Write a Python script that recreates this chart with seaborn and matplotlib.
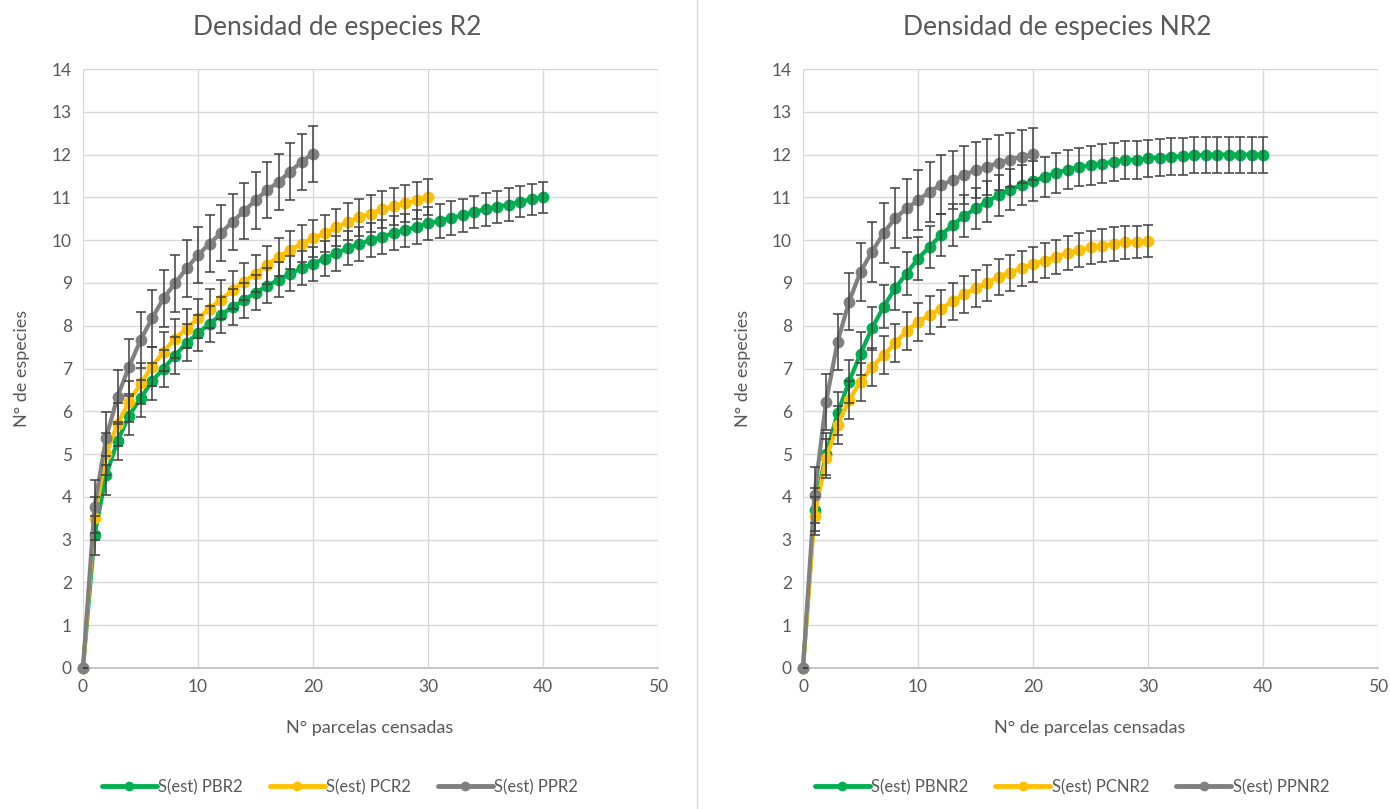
import numpy as np
import pandas as pd
import matplotlib
matplotlib.use("Agg")
import matplotlib.pyplot as plt
import seaborn as sns
from matplotlib.lines import Line2D

# ---------------- data ----------------
x_pb = list(range(0, 41))
x_pc = list(range(0, 31))
x_pp = list(range(0, 21))

# Left panel (R2)
pbr2 = [0, 3.1, 4.5, 5.3, 5.9, 6.3, 6.7, 7.0, 7.3, 7.6, 7.82, 8.05, 8.25, 8.44, 8.6, 8.77,
        8.93, 9.07, 9.21, 9.34, 9.45, 9.57, 9.69, 9.81, 9.91, 10.0, 10.08, 10.16, 10.23,
        10.31, 10.39, 10.45, 10.52, 10.58, 10.66, 10.72, 10.78, 10.83, 10.9, 10.95, 11.0]
pbr2_err = [0, 0.45, 0.45, 0.45, 0.45, 0.44, 0.44, 0.43, 0.43, 0.43, 0.42, 0.42, 0.42, 0.42,
            0.41, 0.41, 0.41, 0.41, 0.41, 0.4, 0.4, 0.4, 0.4, 0.4, 0.4, 0.4, 0.4, 0.4, 0.39,
            0.39, 0.39, 0.39, 0.39, 0.38, 0.38, 0.38, 0.38, 0.38, 0.37, 0.37, 0.37]
pcr2 = [0, 3.5, 5.0, 5.7, 6.22, 6.65, 7.04, 7.39, 7.7, 7.93, 8.17, 8.4, 8.61, 8.83, 9.03,
        9.22, 9.42, 9.61, 9.77, 9.92, 10.04, 10.16, 10.3, 10.43, 10.53, 10.62, 10.72, 10.79,
        10.86, 10.93, 11.01]
pcr2_err = [0, 0.5, 0.5, 0.5, 0.48, 0.47, 0.46, 0.46, 0.45, 0.45, 0.45, 0.45, 0.45, 0.45,
            0.44, 0.44, 0.44, 0.44, 0.44, 0.44, 0.43, 0.43, 0.43, 0.43, 0.43, 0.43, 0.43,
            0.43, 0.43, 0.43, 0.43]
ppr2 = [0, 3.77, 5.37, 6.34, 7.04, 7.66, 8.17, 8.64, 8.99, 9.34, 9.65, 9.92, 10.17, 10.43,
        10.68, 10.93, 11.17, 11.36, 11.6, 11.83, 12.02]
ppr2_err = [0, 0.62, 0.62, 0.63, 0.64, 0.65, 0.66, 0.66, 0.66, 0.66, 0.66, 0.66, 0.66, 0.66,
            0.66, 0.66, 0.66, 0.66, 0.66, 0.65, 0.65]

# Right panel (NR2)
pbnr2 = [0, 3.7, 5.0, 5.95, 6.69, 7.35, 7.94, 8.44, 8.87, 9.22, 9.57, 9.84, 10.12, 10.35,
         10.56, 10.74, 10.9, 11.05, 11.18, 11.29, 11.38, 11.48, 11.57, 11.65, 11.71, 11.75,
         11.79, 11.83, 11.87, 11.88, 11.91, 11.93, 11.95, 11.96, 11.98, 11.99, 12.0, 12.0,
         12.0, 12.0, 12.0]
pbnr2_err = [0, 0.5, 0.5, 0.5, 0.5, 0.5, 0.5, 0.5, 0.5, 0.5, 0.5, 0.5, 0.5, 0.49, 0.49,
             0.49, 0.48, 0.48, 0.48, 0.47, 0.47, 0.47, 0.46, 0.46, 0.45, 0.45, 0.45, 0.44,
             0.44, 0.44, 0.43, 0.43, 0.43, 0.43, 0.42, 0.42, 0.42, 0.42, 0.42, 0.42, 0.42]
pcnr2 = [0, 3.55, 4.9, 5.68, 6.26, 6.69, 7.04, 7.31, 7.59, 7.88, 8.09, 8.25, 8.4, 8.57,
         8.73, 8.87, 9.0, 9.14, 9.24, 9.34, 9.44, 9.52, 9.61, 9.7, 9.77, 9.83, 9.87, 9.91,
         9.95, 9.96, 9.98]
pcnr2_err = [0, 0.45, 0.45, 0.45, 0.45, 0.45, 0.45, 0.45, 0.44, 0.44, 0.44, 0.44, 0.43,
             0.43, 0.43, 0.43, 0.42, 0.42, 0.42, 0.41, 0.41, 0.41, 0.4, 0.4, 0.4, 0.39,
             0.39, 0.39, 0.38, 0.38, 0.38]
ppnr2 = [0, 4.05, 6.21, 7.62, 8.56, 9.26, 9.73, 10.16, 10.51, 10.74, 10.93, 11.13, 11.29,
         11.4, 11.52, 11.64, 11.71, 11.81, 11.88, 11.95, 12.01]
ppnr2_err = [0, 0.65, 0.65, 0.65, 0.67, 0.68, 0.7, 0.7, 0.7, 0.7, 0.7, 0.7, 0.69, 0.68,
             0.67, 0.66, 0.65, 0.64, 0.63, 0.62, 0.61]

titles = ["Densidad de especies R2", "Densidad de especies NR2"]
xlabels = ["N° parcelas censadas", "N° de parcelas censadas"]
ylabel = "N° de especies"
labels_left = ["S(est) PBR2", "S(est) PCR2", "S(est) PPR2"]
labels_right = ["S(est) PBNR2", "S(est) PCNR2", "S(est) PPNR2"]
x_ticks = [0, 10, 20, 30, 40, 50]
y_ticks = list(range(0, 15))

colors = ["#00B050", "#FFC000", "#808080"]

# ---------------- style ----------------
sns.set_theme(style="white")
plt.rcParams["font.family"] = ["Lato", "DejaVu Sans"]
TXT = "#595959"

fig = plt.figure(figsize=(13.9, 8.09), dpi=100)
W, H = 1390, 809

def axrect(x0, x1, ytop, ybot):
    return [x0 / W, 1 - ybot / H, (x1 - x0) / W, (ybot - ytop) / H]

ax_l = fig.add_axes(axrect(83, 658, 69, 668))
ax_r = fig.add_axes(axrect(803, 1378, 69, 668))

panels = [
    (ax_l, [(x_pb, pbr2, pbr2_err), (x_pc, pcr2, pcr2_err), (x_pp, ppr2, ppr2_err)], labels_left),
    (ax_r, [(x_pb, pbnr2, pbnr2_err), (x_pc, pcnr2, pcnr2_err), (x_pp, ppnr2, ppnr2_err)], labels_right),
]

for i, (ax, series, labels) in enumerate(panels):
    frames = []
    for (xs, ys, es), lab in zip(series, labels):
        frames.append(pd.DataFrame({"x": xs, "y": ys, "err": es, "serie": lab}))
    df = pd.concat(frames, ignore_index=True)
    sns.lineplot(data=df, x="x", y="y", hue="serie", hue_order=labels,
                 palette=dict(zip(labels, colors)), marker="o", markersize=8.5,
                 markeredgewidth=0, linewidth=3.0, ax=ax, legend=False, sort=False,
                 zorder=3)
    for ln in ax.lines:
        ln.set_clip_on(False)
    for lab in labels:
        sub = df[df["serie"] == lab]
        eb = ax.errorbar(sub["x"], sub["y"], yerr=sub["err"], fmt="none", ecolor="#404040",
                         elinewidth=1.1, capsize=3.3, capthick=1.1, zorder=4)

    ax.set_xlim(0, 50)
    ax.set_ylim(0, 14)
    ax.set_xticks(x_ticks)
    ax.set_yticks(y_ticks)
    ax.grid(True, color="#D9D9D9", linewidth=1.0)
    ax.set_axisbelow(True)
    for s in ["top", "right", "left"]:
        ax.spines[s].set_visible(False)
    ax.spines["bottom"].set_color("#BFBFBF")
    ax.tick_params(axis="both", length=0, labelsize=12.5, colors=TXT, pad=8)
    ax.set_xlabel("")
    ax.set_ylabel("")

# titles / labels
fig.text(337 / W, 1 - 28 / H, titles[0], ha="center", va="center", fontsize=19, color=TXT)
fig.text(1057 / W, 1 - 28 / H, titles[1], ha="center", va="center", fontsize=19, color=TXT)
fig.text(370 / W, 1 - 728 / H, xlabels[0], ha="center", va="center", fontsize=13, color=TXT)
fig.text(1090 / W, 1 - 728 / H, xlabels[1], ha="center", va="center", fontsize=13, color=TXT)
fig.text(22 / W, 1 - 368 / H, ylabel, ha="center", va="center", rotation=90, fontsize=13, color=TXT)
fig.text(743 / W, 1 - 368 / H, ylabel, ha="center", va="center", rotation=90, fontsize=13, color=TXT)

# separator line between the two charts
fig.add_artist(Line2D([697 / W, 697 / W], [0, 1], color="#D9D9D9", linewidth=1.0))

# legends
for ax, labels, cx in [(ax_l, labels_left, 340), (ax_r, labels_right, 1072)]:
    handles = [Line2D([], [], color=c, marker="o", markersize=7, markeredgewidth=0,
                      linewidth=3.5) for c in colors]
    fig.legend(handles, labels, loc="center", bbox_to_anchor=(cx / W, 1 - 787 / H),
               ncol=3, frameon=False, fontsize=12, handlelength=3.3, handletextpad=0.1,
               columnspacing=1.6, labelcolor=TXT)

fig.savefig("out.png", dpi=100)
